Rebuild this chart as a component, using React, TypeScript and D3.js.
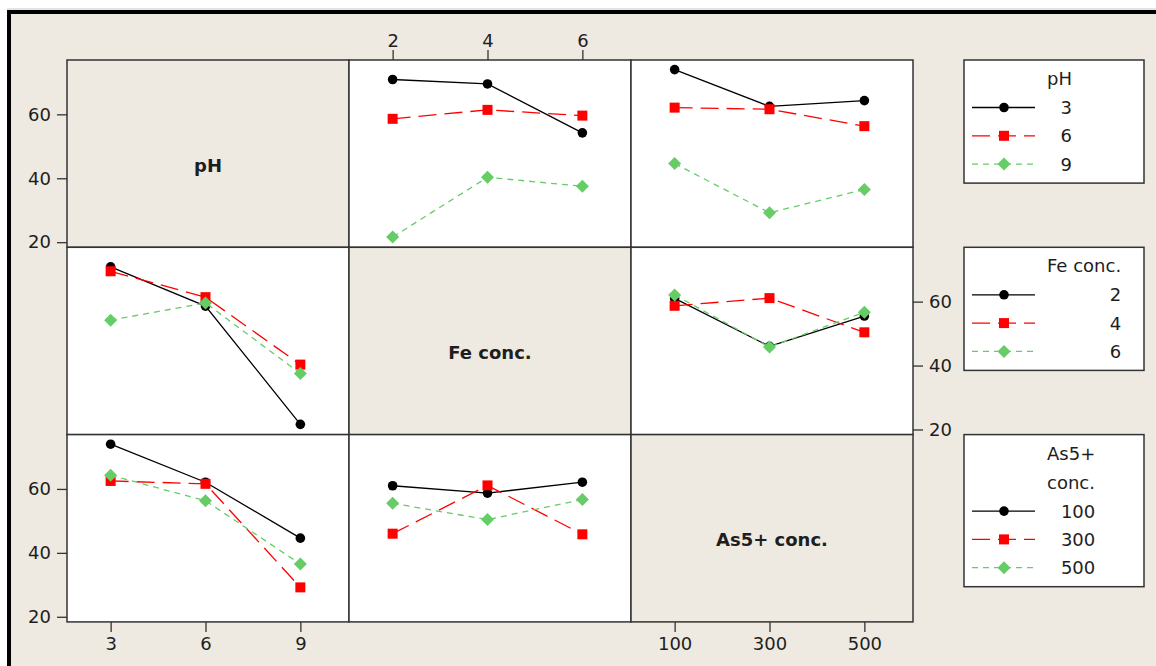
import React, { useEffect, useRef } from 'react';
import * as d3 from 'd3';

// canvas
const width = 1156;
const height = 666;

// factors and their levels
const factorNames = ['pH', 'Fe conc.', 'As5+ conc.'];
const pHLevels = ['3', '6', '9'];
const feLevels = ['2', '4', '6'];
const asLevels = ['100', '300', '500'];
const levels = [pHLevels, feLevels, asLevels];

// cell means, rows = levels of the first factor, cols = levels of the second
const pHbyFe = [
  [70.9, 69.5, 54.2],
  [58.6, 61.4, 59.6],
  [21.6, 40.3, 37.5],
];
const pHbyAs = [
  [74.0, 62.5, 64.3],
  [62.1, 61.6, 56.3],
  [44.6, 29.2, 36.5],
];
const feByAs = [
  [61.0, 46.0, 55.5],
  [58.7, 61.1, 50.4],
  [62.1, 45.8, 56.7],
];

const yTicks = [20, 40, 60];

// legend titles (wrapped the way the original wraps them)
const legendTitles = [['pH'], ['Fe conc.'], ['As5+', 'conc.']];

// layout
const gridLeft = 67;
const gridTop = 60;
const cellW = 282;
const cellH = 187.3;
const legendLeft = 964;
const legendWidth = 180;

// styles
const bgColor = '#eeeae1';
const frameColor = '#333333';
const textColor = '#1e1e1e';
const fontFamily = '"DejaVu Sans", Verdana, sans-serif';
const seriesColors = ['#000000', '#ff0000', '#66cc66'];
const seriesDash = [null, '18,8', '6,5'];

const pairs: Record<string, number[][]> = { '0-1': pHbyFe, '0-2': pHbyAs, '1-2': feByAs };
const mean = (a: number, ai: number, b: number, bi: number) =>
  a < b ? pairs[`${a}-${b}`][ai][bi] : pairs[`${b}-${a}`][bi][ai];

const yScale = d3.scaleLinear().domain([18.4, 77]).range([cellH, 0]);
const xScales = levels.map((lv) =>
  d3.scalePoint<string>().domain(lv).range([0, cellW - 5]).padding(0.46)
);

// marker for series k, centred on 0,0
const drawMarker = (g: any, k: number) => {
  if (k === 0) {
    g.append('circle').attr('r', 4.8).attr('fill', seriesColors[k]);
  } else if (k === 1) {
    g.append('rect').attr('x', -5).attr('y', -5).attr('width', 10).attr('height', 10).attr('fill', seriesColors[k]);
  } else {
    g.append('path').attr('d', 'M0,-6.5L6.5,0L0,6.5L-6.5,0Z').attr('fill', seriesColors[k]);
  }
};

const styleAxis = (sel: any) => {
  sel.select('.domain').remove();
  sel.selectAll('.tick line').attr('stroke', frameColor).attr('stroke-width', 1.3);
  sel.selectAll('.tick text').attr('fill', textColor).attr('font-size', 18).attr('font-family', fontFamily);
};

const App = () => {
  const ref = useRef<SVGSVGElement>(null);

  useEffect(() => {
    const svg = d3.select(ref.current);
    svg.selectAll('*').remove();

    // window frame
    svg.append('rect').attr('width', width).attr('height', height).attr('fill', '#ffffff');
    svg.append('rect').attr('x', 7).attr('y', 10).attr('width', width - 7).attr('height', height - 10).attr('fill', bgColor);
    svg.append('line').attr('x1', 7).attr('x2', width).attr('y1', 9).attr('y2', 9).attr('stroke', '#c8c8c8');
    svg.append('rect').attr('x', 7).attr('y', 10).attr('width', width - 7).attr('height', 4).attr('fill', '#000');
    svg.append('rect').attr('x', 7).attr('y', 10).attr('width', 4).attr('height', height - 10).attr('fill', '#000');

    // matrix of panels
    for (let i = 0; i < 3; i++) {
      for (let j = 0; j < 3; j++) {
        const cell = svg
          .append('g')
          .attr('transform', `translate(${gridLeft + j * cellW},${gridTop + i * cellH})`);
        cell
          .append('rect')
          .attr('width', cellW)
          .attr('height', cellH)
          .attr('fill', i === j ? bgColor : '#ffffff');

        if (i === j) {
          cell
            .append('text')
            .attr('x', cellW / 2)
            .attr('y', cellH / 2 + 18)
            .attr('text-anchor', 'middle')
            .attr('font-family', fontFamily)
            .attr('font-size', 18)
            .attr('font-weight', 'bold')
            .attr('fill', textColor)
            .text(factorNames[i]);
        } else {
          const x = xScales[j];
          levels[i].forEach((_, k) => {
            const pts = levels[j].map((lv, m) => [x(lv) as number, yScale(mean(i, k, j, m))]);
            cell
              .append('path')
              .attr('d', d3.line()(pts as [number, number][]))
              .attr('fill', 'none')
              .attr('stroke', seriesColors[k])
              .attr('stroke-width', 1.3)
              .attr('stroke-dasharray', seriesDash[k]);
            pts.forEach((p) => {
              const mg = cell.append('g').attr('transform', `translate(${p[0]},${p[1]})`);
              drawMarker(mg, k);
            });
          });
        }

        cell
          .append('rect')
          .attr('width', cellW)
          .attr('height', cellH)
          .attr('fill', 'none')
          .attr('stroke', frameColor)
          .attr('stroke-width', 1.5);
      }
    }

    // y axes: left on rows 1 and 3, right on row 2
    [0, 1, 2].forEach((i) => {
      const right = i === 1;
      const ax = (right ? d3.axisRight(yScale) : d3.axisLeft(yScale))
        .tickValues(yTicks)
        .tickSize(10)
        .tickPadding(6)
        .tickFormat(d3.format('d'));
      const g = svg
        .append('g')
        .attr('transform', `translate(${right ? gridLeft + 3 * cellW : gridLeft},${gridTop + i * cellH})`)
        .call(ax);
      styleAxis(g);
    });

    // x axes: bottom on columns 1 and 3, top on column 2
    [0, 1, 2].forEach((j) => {
      const top = j === 1;
      const ax = (top ? d3.axisTop(xScales[j]) : d3.axisBottom(xScales[j])).tickSize(10).tickPadding(top ? 3 : 5);
      const g = svg
        .append('g')
        .attr('transform', `translate(${gridLeft + j * cellW},${top ? gridTop : gridTop + 3 * cellH})`)
        .call(ax);
      styleAxis(g);
    });

    // legends, one per factor, aligned to the row tops
    legendTitles.forEach((title, f) => {
      const top = gridTop + f * cellH;
      const lg = svg.append('g');
      const box = lg.append('rect');
      const titleLeft = legendLeft + 83;
      let titleRight = titleLeft;
      title.forEach((line, t) => {
        const tx = lg
          .append('text')
          .attr('x', titleLeft)
          .attr('y', top + 25 + t * 29)
          .attr('font-family', fontFamily)
          .attr('font-size', 18)
          .attr('fill', textColor)
          .text(line);
        const w = (tx.node() as SVGTextElement).getComputedTextLength();
        titleRight = Math.max(titleRight, titleLeft + w);
      });
      const rowStart = top + 47.5 + (title.length - 1) * 29;
      let lastY = rowStart;
      levels[f].forEach((lv, k) => {
        const cy = rowStart + k * 28.3;
        lastY = cy;
        lg.append('line')
          .attr('x1', legendLeft + 8)
          .attr('x2', legendLeft + 71)
          .attr('y1', cy)
          .attr('y2', cy)
          .attr('stroke', seriesColors[k])
          .attr('stroke-width', 1.3)
          .attr('stroke-dasharray', seriesDash[k]);
        drawMarker(lg.append('g').attr('transform', `translate(${legendLeft + 40},${cy})`), k);
        lg.append('text')
          .attr('x', titleRight)
          .attr('y', cy + 6.5)
          .attr('text-anchor', 'end')
          .attr('font-family', fontFamily)
          .attr('font-size', 18)
          .attr('fill', textColor)
          .text(lv);
      });
      box
        .attr('x', legendLeft)
        .attr('y', top)
        .attr('width', legendWidth)
        .attr('height', lastY + 19 - top)
        .attr('fill', '#ffffff')
        .attr('stroke', frameColor)
        .attr('stroke-width', 1.5);
    });
  }, []);

  return (
    <svg
      ref={ref}
      width={width}
      height={height}
      style={{ position: 'absolute', left: 0, top: 0, display: 'block' }}
    />
  );
};

export default App;
